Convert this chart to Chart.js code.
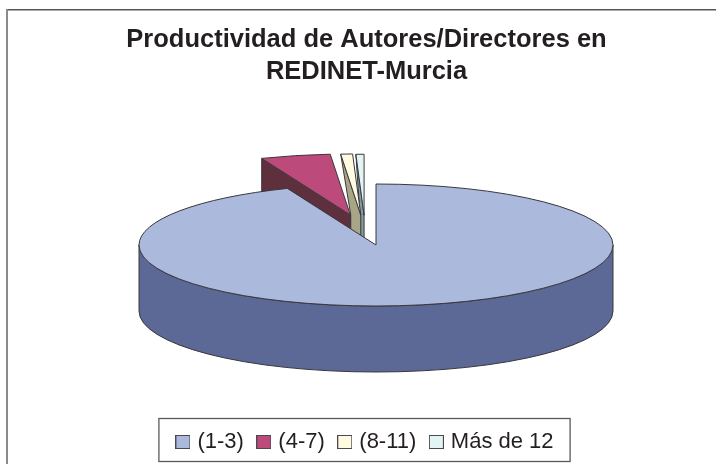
<!DOCTYPE html>
<html><head><meta charset="utf-8">
<style>html,body{margin:0;padding:0;background:#fff;overflow:hidden}#w{width:716px;height:464px;position:relative}</style>
<script src="https://cdn.jsdelivr.net/npm/chart.js@4/dist/chart.umd.min.js"></script>
</head><body><div id="w"><canvas id="c" width="716" height="464"></canvas></div>
<script>
const categories = ["(1-3)", "(4-7)", "(8-11)", "Más de 12"];
const shares = [93.9, 4.75, 0.8, 0.55];
const topColors = ["#AAB9DC", "#BC4A7B", "#FFFBE0", "#E2F4F3"];
const wallColors = ["#5C6896", "#5E2F3C", "#A9A587", "#7F9EA2"];
const titleLines = ["Productividad de Autores/Directores en", "REDINET-Murcia"];

// pie look: projection of the unit pie, and how each slice is pulled out of it
const view = {cx: 376, cy: 245, a: 237, b: 61, depth: 66};
const pull = [0, 0.504, 0.497, 0.49];
const lean = [0, -1, 4, 4.9];
const taper = [0, 0, 0.5, 0.5];
const ink = "#3A383C";

function swatch(color){
  const s = document.createElement("canvas"); s.width = 15; s.height = 14;
  const x = s.getContext("2d");
  x.fillStyle = color; x.fillRect(0,0,15,14);
  x.strokeStyle = "#4A4A4E"; x.lineWidth = 1; x.strokeRect(.5,.5,14,13);
  return s;
}

const pie3d = {
  id: "pie3d",
  beforeDraw(chart){
    const c = chart.ctx;
    c.save();
    c.fillStyle = "#fff"; c.fillRect(0,0,716,464);
    c.fillStyle = "#555"; c.fillRect(6,9,710,1);
    c.fillStyle = "#AAA"; c.fillRect(6,10,710,1);
    c.fillStyle = "#8A8A8A"; c.fillRect(6,9,2,455);
    c.restore();
  },
  beforeDatasetDraw(chart, args){
    const c = chart.ctx, arcs = args.meta.data, v = view;
    c.save();
    c.lineWidth = 1; c.strokeStyle = ink; c.lineJoin = "round";
    for (let i = arcs.length - 1; i >= 0; i--){
      const arc = arcs[i], s = arc.startAngle, e = arc.endAngle, mid = (s+e)/2 - lean[i]*Math.PI/180;
      const px = v.cx + Math.cos(mid)*pull[i]*v.a, py = v.cy + Math.sin(mid)*pull[i]*v.b;
      const ox = t => px + v.a*Math.cos(t), oy = t => py + v.b*Math.sin(t);
      // outer rim, front-facing part only
      const t0 = Math.max(s, 0), t1 = Math.min(e, Math.PI);
      if (t1 > t0){
        c.beginPath();
        c.ellipse(px, py, v.a, v.b, 0, t0, t1);
        c.lineTo(ox(t1), oy(t1)+v.depth);
        c.ellipse(px, py+v.depth, v.a, v.b, 0, t1, t0, true);
        c.closePath();
        c.fillStyle = wallColors[i]; c.fill(); c.stroke();
      }
      // radial wall seen from the front
      if (i > 0){
        const ax = ox(s), ay = oy(s);
        c.beginPath();
        if (taper[i] > 0){
          const lx = ax + (px-ax)*taper[i];
          c.moveTo(ax, ay); c.lineTo(px, py); c.lineTo(px, py+v.depth);
          c.lineTo(lx, py+v.depth); c.lineTo(lx, py);
        } else {
          c.moveTo(ax, ay); c.lineTo(px, py); c.lineTo(px, py+v.depth); c.lineTo(ax, ay+v.depth);
        }
        c.closePath();
        c.fillStyle = wallColors[i]; c.fill(); c.stroke();
      }
      // top face
      c.beginPath();
      c.moveTo(px, py);
      c.ellipse(px, py, v.a, v.b, 0, s, e);
      c.closePath();
      c.fillStyle = topColors[i]; c.fill(); c.stroke();
    }
    c.restore();
    return false;
  },
  afterDraw(chart){
    const boxes = chart.legend.legendHitBoxes, c = chart.ctx;
    const first = boxes[0], last = boxes[boxes.length-1];
    const l = first.left - 21, r = last.left + last.width + 16;
    const mid = first.top + first.height/2;
    c.save();
    c.strokeStyle = "#5A5A5E"; c.lineWidth = 1.3;
    c.strokeRect(l + .5, Math.round(mid) - 23.5, r - l, 43);
    c.restore();
  }
};

new Chart(document.getElementById("c"), {
  type: "pie",
  data: {labels: categories, datasets: [{data: shares, backgroundColor: topColors, borderWidth: 0}]},
  plugins: [pie3d],
  options: {
    responsive: false, animation: false, events: [],
    layout: {padding: {left: 17, bottom: 1, top: 0}},
    plugins: {
      tooltip: {enabled: false},
      title: {display: true, text: titleLines, color: "#231F20", align: "center",
        font: {family: "'Liberation Sans'", size: 25.5, weight: "bold", lineHeight: 1.25},
        padding: {top: 24, bottom: 10}},
      legend: {display: true, position: "bottom",
        labels: {
          color: "#231F20", font: {family: "'Liberation Sans'", size: 22},
          usePointStyle: true, boxWidth: 7, boxHeight: 14, padding: 16.5,
          generateLabels: () => categories.map((t,i) => ({text: t, pointStyle: swatch(topColors[i]), fontColor: "#231F20", hidden: false, index: i, lineWidth: 0}))
        }}
    }
  }
});
</script></body></html>
